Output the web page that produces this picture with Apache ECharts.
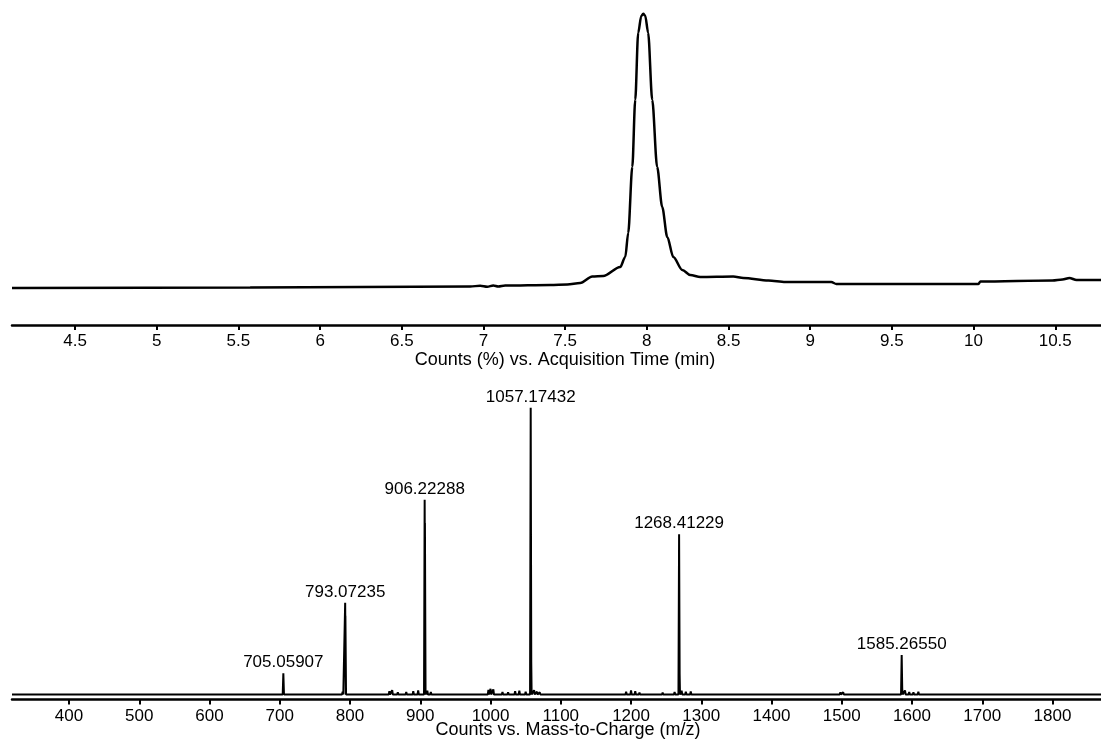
<!DOCTYPE html>
<html>
<head>
<meta charset="utf-8">
<script src="https://cdn.jsdelivr.net/npm/echarts@6/dist/echarts.min.js"></script>
<style>
  html, body { margin: 0; padding: 0; background: #fff; }
  #chart { width: 1101px; height: 740px; }
</style>
</head>
<body>
<div id="chart"></div>
<script>
// chromatogram (top)
var timeMin = [4.114, 5.572, 6.919, 6.980, 7.023, 7.060, 7.090, 7.133, 7.409, 7.513, 7.592, 7.666, 7.733, 7.837, 7.868, 7.886, 7.911, 7.929, 7.947, 7.966, 7.978, 7.990, 8.008, 8.033, 8.063, 8.094, 8.125, 8.162, 8.217, 8.266, 8.327, 8.529, 8.591, 8.744, 8.848, 9.129, 9.160, 10.030, 10.042, 10.483, 10.544, 10.587, 10.630, 10.78];
var countsPct = [11.85, 12.0, 12.33, 12.55, 12.23, 12.62, 12.3, 12.62, 12.81, 12.97, 13.45, 15.53, 15.69, 18.57, 21.77, 29.46, 50.59, 72.05, 93.5, 98.9, 99.6, 99.0, 93.5, 72.05, 50.59, 37.78, 28.18, 21.77, 17.61, 16.01, 15.37, 15.53, 15.05, 14.25, 13.77, 13.77, 13.13, 13.13, 13.93, 14.25, 14.57, 15.05, 14.41, 14.41];
var timeTicks = [4.5, 5, 5.5, 6, 6.5, 7, 7.5, 8, 8.5, 9, 9.5, 10, 10.5];

// mass spectrum (bottom)
var peakMz = [633.6, 705.06, 752, 779, 789.5, 793.07, 793.4, 856, 860, 868, 880, 890, 897, 906.22, 906.6, 910, 915, 947,
  997, 1000, 1004, 1017, 1025, 1035, 1041, 1050, 1057.17, 1057.6, 1062, 1066, 1070,
  1193, 1200, 1206, 1212, 1237, 1245, 1252, 1262, 1268.41, 1268.8, 1272, 1278, 1285,
  1498, 1502, 1585.27, 1585.7, 1590, 1596, 1602, 1609, 1814];
var peakHeight = [0.6, 7.4, 0.5, 0.6, 1.0, 32.0, 27.5, 1.2, 1.5, 0.8, 0.9, 1.2, 1.4, 67.9, 59.8, 1.3, 0.9, 0.6,
  1.6, 2.0, 1.8, 0.9, 0.8, 1.2, 1.3, 1.0, 100, 19.0, 1.5, 1.0, 0.8,
  1.0, 1.4, 1.2, 0.7, 0.6, 0.7, 0.6, 0.9, 55.9, 12.7, 1.3, 1.0, 1.1,
  0.8, 0.8, 13.8, 3.3, 1.4, 0.9, 0.8, 1.0, 0.6];
var labelMz = [705.06, 793.07, 906.22, 1057.17, 1268.41, 1585.27];
var labelHeight = [7.4, 32.0, 67.9, 100, 55.9, 13.8];
var labelText = ["705.05907", "793.07235", "906.22288", "1057.17432", "1268.41229", "1585.26550"];
var mzTicks = [400, 500, 600, 700, 800, 900, 1000, 1100, 1200, 1300, 1400, 1500, 1600, 1700, 1800];

var mzMin = 318.8, mzMax = 1869;

var chromData = timeMin.map(function (t, i) { return [t, countsPct[i]]; });

// profile spectrum: each centroid drawn as a narrow spike on the baseline
var specData = [[mzMin, 0]];
peakMz.forEach(function (mz, i) {
  specData.push([mz - 0.9, 0], [mz, peakHeight[i]], [mz + 0.9, 0]);
});
specData.push([mzMax, 0]);

var labelData = labelMz.map(function (mz, i) { return [mz, labelHeight[i]]; });

var font = "Liberation Sans, Arial, sans-serif";

function xAxisCfg(gi, min, max, ticks) {
  return {
    type: "value",
    gridIndex: gi,
    min: min,
    max: max,
    axisLine: { show: true, onZero: false, lineStyle: { color: "#000", width: 2.5 } },
    axisTick: { show: true, customValues: ticks, length: 5, lineStyle: { color: "#000", width: 2 } },
    axisLabel: {
      customValues: ticks, color: "#000", fontSize: 17, fontFamily: font, margin: 8,
      formatter: function (v) { return String(v); }
    },
    splitLine: { show: false }
  };
}

var myChart = echarts.init(document.getElementById("chart"));
var option = {
  backgroundColor: "#fff",
  animation: false,
  grid: [
    { left: 12, right: 0, top: 0, bottom: 415 },
    { left: 12, right: 0, top: 380, bottom: 40.5 }
  ],
  xAxis: [
    xAxisCfg(0, 4.114, 10.78, timeTicks),
    xAxisCfg(1, mzMin, mzMax, mzTicks)
  ],
  yAxis: [
    { type: "value", gridIndex: 0, min: 0, max: 104, show: false },
    { type: "value", gridIndex: 1, min: -1.74, max: 109.7, show: false }
  ],
  graphic: [
    {
      type: "text", x: 565, y: 360,
      style: { text: "Counts (%) vs. Acquisition Time (min)", fill: "#000", font: "18px " + font, align: "center", verticalAlign: "middle" }
    },
    {
      type: "text", x: 568, y: 730,
      style: { text: "Counts vs. Mass-to-Charge (m/z)", fill: "#000", font: "18px " + font, align: "center", verticalAlign: "middle" }
    }
  ],
  series: [
    {
      type: "line", xAxisIndex: 0, yAxisIndex: 0,
      data: chromData, symbol: "none",
      smooth: 0.3, smoothMonotone: "x",
      lineStyle: { color: "#000", width: 2.5 }
    },
    {
      type: "line", xAxisIndex: 1, yAxisIndex: 1,
      data: specData, symbol: "none",
      lineStyle: { color: "#000", width: 2 }
    },
    {
      type: "scatter", xAxisIndex: 1, yAxisIndex: 1,
      data: labelData, symbolSize: 0,
      itemStyle: { opacity: 1, color: "#000" },
      label: {
        show: true, position: "top", distance: 2,
        color: "#000", opacity: 1, fontSize: 17, fontFamily: font,
        formatter: function (p) { return labelText[p.dataIndex]; }
      }
    }
  ]
};
myChart.setOption(option);
</script>
</body>
</html>
